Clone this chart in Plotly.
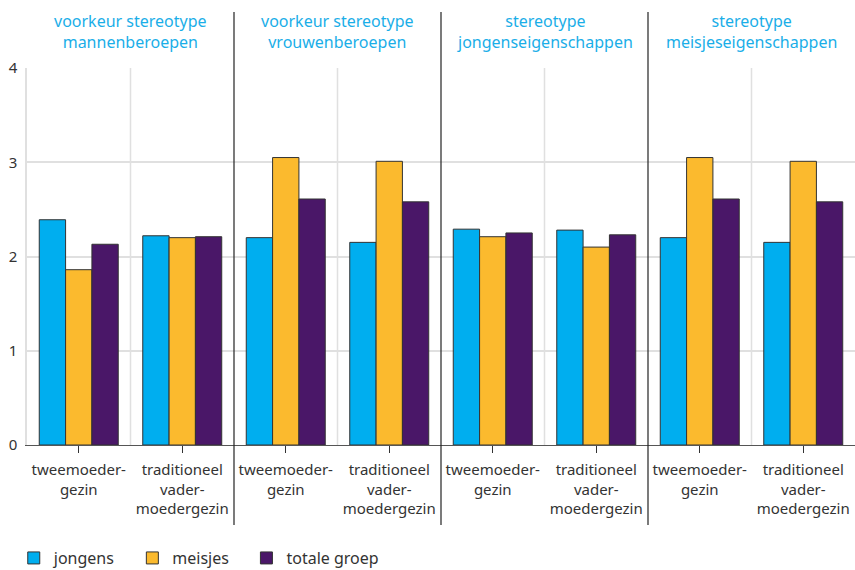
import plotly.graph_objects as go

sections = ["voorkeur stereotype<br>mannenberoepen", "voorkeur stereotype<br>vrouwenberoepen",
            "stereotype<br>jongenseigenschappen", "stereotype<br>meisjeseigenschappen"]
tick_labels = ["tweemoeder-<br>gezin", "traditioneel<br>vader-<br>moedergezin"] * 4
jongens = [2.39, 2.22, 2.20, 2.15, 2.29, 2.28, 2.20, 2.15]
meisjes = [1.86, 2.20, 3.05, 3.01, 2.21, 2.10, 3.05, 3.01]
totaal = [2.13, 2.21, 2.61, 2.58, 2.25, 2.23, 2.61, 2.58]
series_names = ["jongens", "meisjes", "totale groep"]
colors = ["#00AEEF", "#FBBA2E", "#4A1768"]
ytick_vals = [0, 1, 2, 3, 4]

pad = "\u00a0\u00a0\u00a0"
xpos = list(range(len(tick_labels)))
fig = go.Figure()
for i, (name, vals, c) in enumerate(zip(series_names, [jongens, meisjes, totaal], colors)):
    label = name + (pad if i < len(series_names) - 1 else "")
    fig.add_trace(go.Bar(x=xpos, y=vals, name=label, marker=dict(color=c, line=dict(color="#333333", width=1))))

shapes = []
for b in [0.5, 2.5, 4.5, 6.5]:
    shapes.append(dict(type="line", xref="x", yref="y", x0=b, x1=b, y0=0, y1=4,
                       line=dict(color="#E0E0E0", width=1.5), layer="below"))
for b in [1.5, 3.5, 5.5]:
    shapes.append(dict(type="line", xref="x", yref="paper", x0=b, x1=b, y0=-0.212, y1=1.1485,
                       line=dict(color="#222222", width=1.2)))

annotations = []
for i, s in enumerate(sections):
    annotations.append(dict(x=2 * i + 0.5, y=1.0, xref="x", yref="paper", yanchor="bottom",
                            yshift=13, text=s, showarrow=False,
                            font=dict(color="#1AAEE8", size=16, family="Noto Sans")))

fig.update_layout(
    width=855, height=570,
    margin=dict(l=27, r=0, t=68, b=125),
    barmode="group", bargap=0.237, bargroupgap=0,
    plot_bgcolor="white", paper_bgcolor="white",
    font=dict(family="Noto Sans", size=15, color="#333333"),
    shapes=shapes, annotations=annotations,
    xaxis=dict(range=[-0.5, 7.5], tickmode="array", tickvals=xpos, ticktext=tick_labels,
               showgrid=False, ticks="outside", ticklen=7, tickcolor="#333333",
               showline=True, linecolor="#555555", linewidth=1, zeroline=False, automargin=False,
               ticklabelstandoff=4),
    yaxis=dict(range=[0, 4], tickvals=ytick_vals, showgrid=True, gridcolor="#E0E0E0", gridwidth=1.5,
               zeroline=False, showline=True, linecolor="#E0E0E0", linewidth=1.5,
               ticks="", tickfont=dict(size=15), automargin=False, ticklabelstandoff=5),
    legend=dict(orientation="h", x=-0.016, xanchor="left", yref="container", y=0.021, yanchor="middle",
                font=dict(size=16), traceorder="normal"),
)
fig.write_html("out.html", config={"displayModeBar": False},
               post_script="document.body.style.margin='0';document.body.style.overflow='hidden';")
